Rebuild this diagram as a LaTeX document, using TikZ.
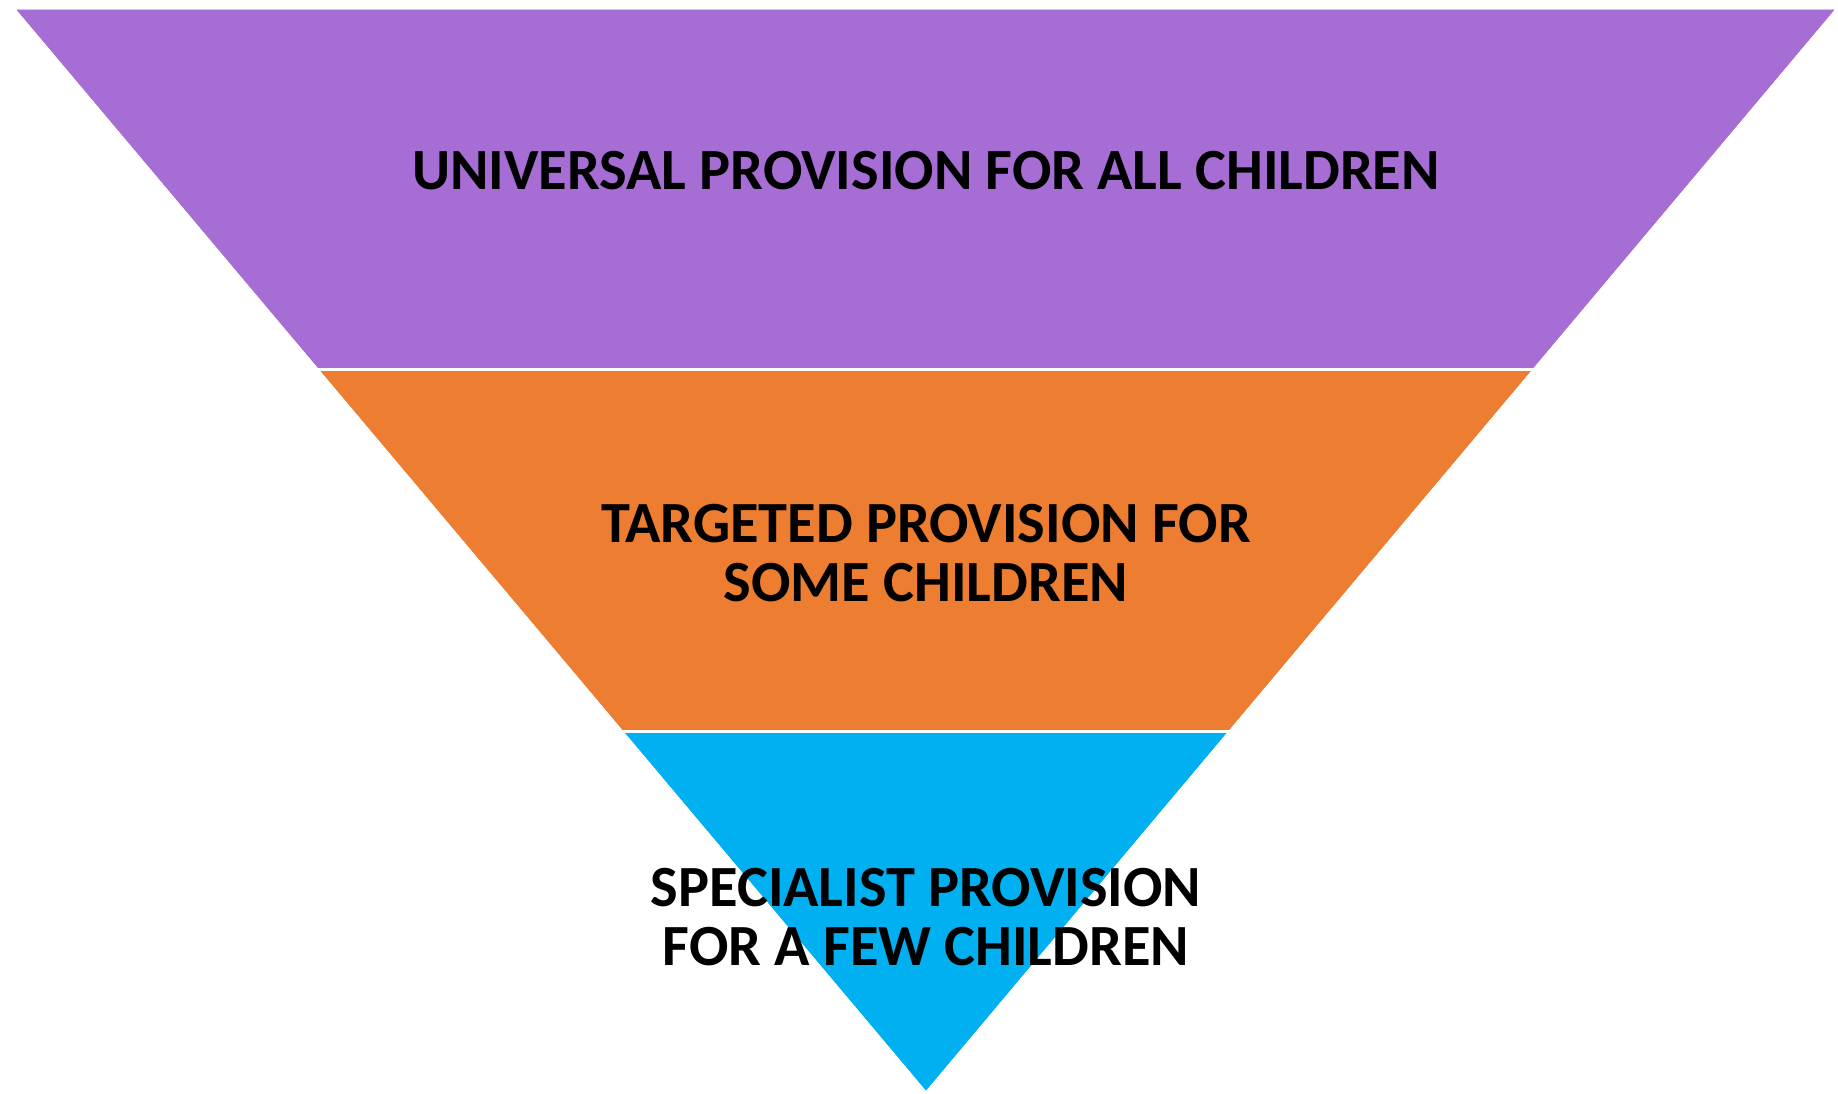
\documentclass[tikz,border=0pt]{standalone}
\usepackage{fontspec}
\setmainfont{Carlito}
\usetikzlibrary{calc}
\definecolor{bandpurple}{HTML}{A66ED4}
\definecolor{bandorange}{HTML}{ED7D31}
\definecolor{bandblue}{HTML}{00B0F0}

\begin{document}
\begin{tikzpicture}[line width=0.25mm,
  band/.style={draw=white, line join=miter},
  label/.style={anchor=north, inner sep=0pt, align=center,
    font=\fontsize{16.6}{16.9}\selectfont\bfseries}]
\useasboundingbox (0,0) rectangle (18.38,-10.94);
\coordinate (tl) at (0.13,-0.08);
\coordinate (tr) at (18.38,-0.08);
\coordinate (apex) at (9.26,-10.93);
\coordinate (ml) at ($(tl)!1/3!(apex)$);
\coordinate (mr) at ($(tr)!1/3!(apex)$);
\coordinate (ll) at ($(tl)!2/3!(apex)$);
\coordinate (lr) at ($(tr)!2/3!(apex)$);
\fill[band, fill=bandpurple] (tl) -- (tr) -- (mr) -- (ml) -- cycle;
\fill[band, fill=bandorange] (ml) -- (mr) -- (lr) -- (ll) -- cycle;
\fill[band, fill=bandblue] (ll) -- (lr) -- (apex) -- cycle;
\draw[band] (tl) -- (tr) -- (mr) -- (ml) -- cycle;
\draw[band] (ml) -- (mr) -- (lr) -- (ll) -- cycle;
\draw[band] (ll) -- (lr) -- (apex) -- cycle;
\node[label] (universal) at (9.26,-1.50) {UNIVERSAL PROVISION FOR ALL CHILDREN};
\node[label] (targeted) at (9.26,-5.03) {TARGETED PROVISION FOR\\SOME CHILDREN};
\node[label] (specialist) at (9.26,-8.67) {SPECIALIST PROVISION\\FOR A FEW CHILDREN};
\end{tikzpicture}
\end{document}
